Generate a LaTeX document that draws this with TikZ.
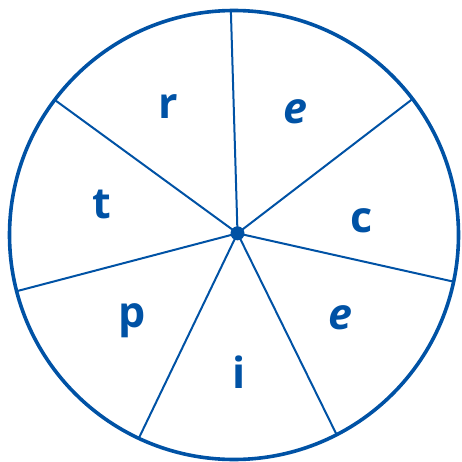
\documentclass[tikz,border=0pt]{standalone}
\usepackage{fontspec}
\setmainfont{Open Sans}
\usepackage{tikz}
\definecolor{wheelblue}{RGB}{0,82,165}

\begin{document}
\begin{tikzpicture}[x=1pt,y=1pt,
  rim/.style={draw=wheelblue,line width=3.6pt},
  spoke/.style={draw=wheelblue,line width=2pt},
  lt/.style={anchor=base,text=wheelblue,inner sep=0pt,font=\fontsize{43}{43}\selectfont\bfseries}]
\useasboundingbox (0,0) rectangle (462,461);
\coordinate (o) at (234,226);
\coordinate (hub) at (237.5,227.7);
\draw[rim] (o) circle (224.5);
% spokes
\foreach \a in {90.8,37.3,-12.0,-62.8,-115.1,194.5,143.0}
  \draw[spoke] (hub) -- ([shift={(\a:224.5)}]o);
\fill[wheelblue] (hub) circle (7);
% letters
\node[lt] (r)  at (168,342) {r};
\node[lt] (e1) at (295,337) {\itshape e};
\node[lt] (c)  at (362,229) {c};
\node[lt] (e2) at (340,132) {\itshape e};
\node[lt] (i)  at (239,73)  {i};
\node[lt] (p)  at (132,134) {p};
\node[lt] (t)  at (102,243) {t};
\end{tikzpicture}
\end{document}
